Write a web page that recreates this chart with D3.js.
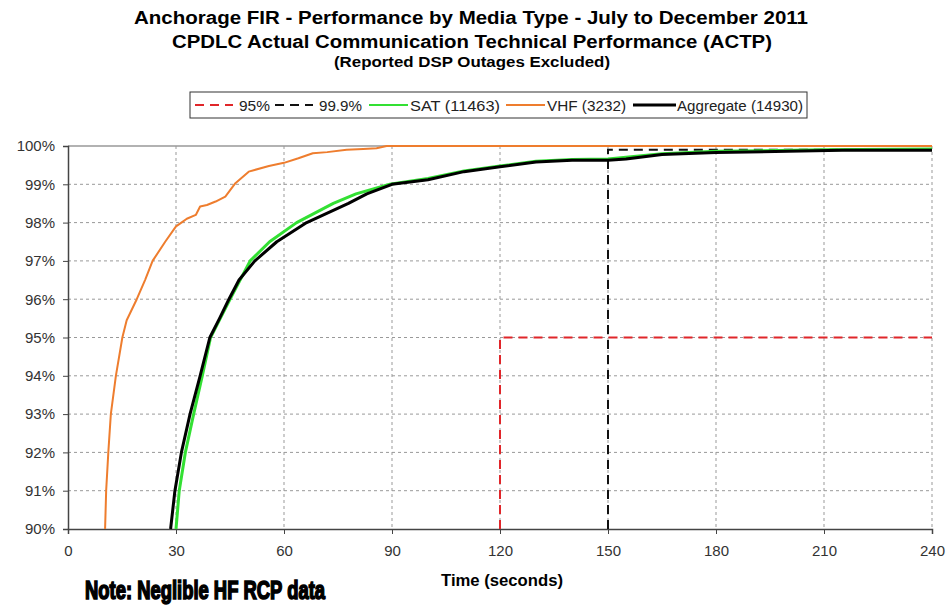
<!DOCTYPE html>
<html>
<head>
<meta charset="utf-8">
<script src="https://cdn.jsdelivr.net/npm/d3@7"></script>
<style>
  body { margin: 0; background: #fff; }
  svg { display: block; font-family: "Liberation Sans", Arial, sans-serif; }
</style>
</head>
<body>
<div id="chart"></div>
<script>
// data: time (s) vs cumulative % delivered
const vhfTime = [10.3, 10.6, 11.2, 11.9, 13.3, 15.1, 16.3, 19.1, 21.4, 23.5, 27.0, 30, 31.5, 33, 35.5, 36.7, 38.6, 41, 43.7, 46.5, 50.2, 55.8, 60, 64, 68, 72, 77.4, 82, 85.7, 88.5, 240];
const vhfPct  = [90, 91, 92, 93, 94, 95, 95.45, 96, 96.5, 97, 97.5, 97.9, 98.0, 98.1, 98.2, 98.42, 98.46, 98.55, 98.68, 99.03, 99.33, 99.48, 99.56, 99.68, 99.81, 99.84, 99.9, 99.92, 99.94, 100, 100];

const satTime = [30.0, 30.9, 32.6, 34.9, 37.3, 39.6, 42.3, 45, 50.6, 56, 63.5, 73.7, 80, 89.4, 100, 110, 120, 130, 140, 150, 165, 180, 210, 240];
const satPct  = [90, 91, 92, 93, 94, 95, 95.5, 96, 97, 97.5, 98, 98.5, 98.75, 99.0, 99.15, 99.35, 99.48, 99.6, 99.65, 99.66, 99.8, 99.86, 99.9, 99.92];

const aggTime = [28.5, 29.7, 31.5, 33.9, 36.7, 39.4, 42.1, 44.7, 47.5, 51.9, 58, 66.3, 77.9, 83, 90, 100, 110, 120, 130, 140, 150, 155, 165, 180, 200, 215, 240];
const aggPct  = [90, 91, 92, 93, 94, 95, 95.5, 96, 96.5, 97, 97.5, 98, 98.5, 98.75, 99.0, 99.12, 99.33, 99.46, 99.58, 99.63, 99.63, 99.66, 99.78, 99.83, 99.86, 99.89, 99.89];

// requirement lines: [time, pct] corners
const req95Time  = [120, 120, 240];
const req95Pct   = [90, 95, 95];
const req999Time = [150, 150, 240];
const req999Pct  = [90, 99.9, 99.9];

const xTicks = [0, 30, 60, 90, 120, 150, 180, 210, 240];
const yTicks = [90, 91, 92, 93, 94, 95, 96, 97, 98, 99, 100];

const titles = [
  "Anchorage FIR - Performance by Media Type - July to December 2011",
  "CPDLC Actual Communication Technical Performance (ACTP)",
  "(Reported DSP Outages Excluded)"
];
const legendLabels = ["95%", "99.9%", "SAT (11463)", "VHF (3232)", "Aggregate (14930)"];

const W = 951, H = 607;
const plot = { left: 68, right: 932, top: 146, bottom: 529 };

const svg = d3.select("#chart").append("svg")
  .attr("width", W)
  .attr("height", H);

const x = d3.scaleLinear().domain([0, 240]).range([plot.left, plot.right]);
const y = d3.scaleLinear().domain([90, 100]).range([plot.bottom, plot.top]);

// titles
svg.append("text")
  .attr("x", 471).attr("y", 24)
  .attr("text-anchor", "middle")
  .attr("font-size", 18).attr("font-weight", "bold")
  .attr("textLength", 674).attr("lengthAdjust", "spacingAndGlyphs")
  .text(titles[0]);
svg.append("text")
  .attr("x", 472).attr("y", 48)
  .attr("text-anchor", "middle")
  .attr("font-size", 18).attr("font-weight", "bold")
  .attr("textLength", 600).attr("lengthAdjust", "spacingAndGlyphs")
  .text(titles[1]);
svg.append("text")
  .attr("x", 472).attr("y", 67)
  .attr("text-anchor", "middle")
  .attr("font-size", 14).attr("font-weight", "bold")
  .attr("textLength", 276).attr("lengthAdjust", "spacingAndGlyphs")
  .text(titles[2]);

// gridlines
svg.append("g")
  .selectAll("line")
  .data(yTicks.slice(1, -1))
  .enter().append("line")
  .attr("x1", plot.left).attr("x2", plot.right)
  .attr("y1", d => y(d)).attr("y2", d => y(d))
  .attr("stroke", "#999").attr("stroke-width", 1)
  .attr("stroke-dasharray", "3,3");
svg.append("g")
  .selectAll("line")
  .data(xTicks.slice(1))
  .enter().append("line")
  .attr("x1", d => x(d)).attr("x2", d => x(d))
  .attr("y1", plot.top).attr("y2", plot.bottom)
  .attr("stroke", "#999").attr("stroke-width", 1)
  .attr("stroke-dasharray", "3,3");

// top border
svg.append("line")
  .attr("x1", plot.left).attr("x2", plot.right)
  .attr("y1", plot.top).attr("y2", plot.top)
  .attr("stroke", "#999").attr("stroke-width", 1.5);

// axes
const yAxis = svg.append("g")
  .attr("transform", `translate(${plot.left},0)`)
  .call(d3.axisLeft(y).tickValues(yTicks).tickFormat(d => d + "%").tickSize(5).tickPadding(8));
const xAxis = svg.append("g")
  .attr("transform", `translate(0,${plot.bottom})`)
  .call(d3.axisBottom(x).tickValues(xTicks).tickSize(5).tickPadding(11));
[yAxis, xAxis].forEach(ax => {
  ax.select(".domain").attr("stroke", "#444").attr("stroke-width", 1.5);
  ax.selectAll(".tick line").attr("stroke", "#444");
  ax.selectAll("text")
    .attr("font-family", "Liberation Sans, Arial, sans-serif")
    .attr("font-size", 15).attr("fill", "#333");
});

const line = d3.line()
  .x(d => x(d[0]))
  .y(d => y(d[1]));

function pairs(ts, ps) {
  return ts.map((t, i) => [t, ps[i]]);
}

// requirement lines
svg.append("path")
  .datum(pairs(req95Time, req95Pct))
  .attr("d", line)
  .attr("fill", "none").attr("stroke", "#e0262a").attr("stroke-width", 2)
  .attr("stroke-dasharray", "9,6");
svg.append("path")
  .datum(pairs(req999Time, req999Pct))
  .attr("d", line)
  .attr("fill", "none").attr("stroke", "#111").attr("stroke-width", 2)
  .attr("stroke-dasharray", "9,6");

// series
const series = [
  { t: vhfTime, p: vhfPct, color: "#ee7d2e", w: 2 },
  { t: satTime, p: satPct, color: "#33e033", w: 3 },
  { t: aggTime, p: aggPct, color: "#000", w: 3 }
];
series.forEach(s => {
  svg.append("path")
    .datum(pairs(s.t, s.p))
    .attr("d", line)
    .attr("fill", "none")
    .attr("stroke", s.color)
    .attr("stroke-width", s.w)
    .attr("stroke-linejoin", "round");
});

// legend
const legend = svg.append("g");
legend.append("rect")
  .attr("x", 190).attr("y", 92)
  .attr("width", 617).attr("height", 26)
  .attr("fill", "#fff").attr("stroke", "#333").attr("stroke-width", 1);

const legendItems = [
  { x1: 195, x2: 233, tx: 239, tw: 31, color: "#e0262a", dash: "9,6", w: 2 },
  { x1: 275, x2: 313, tx: 319, tw: 43, color: "#111", dash: "9,6", w: 2 },
  { x1: 369, x2: 408, tx: 410, tw: 90, color: "#33e033", dash: null, w: 2 },
  { x1: 506, x2: 545, tx: 547, tw: 79, color: "#ee7d2e", dash: null, w: 2 },
  { x1: 633, x2: 676, tx: 677, tw: 126, color: "#000", dash: null, w: 3 }
];
legendItems.forEach((it, i) => {
  legend.append("line")
    .attr("x1", it.x1).attr("x2", it.x2)
    .attr("y1", 105).attr("y2", 105)
    .attr("stroke", it.color).attr("stroke-width", it.w)
    .attr("stroke-dasharray", it.dash);
  legend.append("text")
    .attr("x", it.tx).attr("y", 111)
    .attr("font-size", 15).attr("fill", "#222")
    .attr("textLength", it.tw).attr("lengthAdjust", "spacingAndGlyphs")
    .text(legendLabels[i]);
});

// axis title
svg.append("text")
  .attr("x", 502).attr("y", 586)
  .attr("text-anchor", "middle")
  .attr("font-size", 16).attr("font-weight", "bold")
  .attr("textLength", 122).attr("lengthAdjust", "spacingAndGlyphs")
  .text("Time (seconds)");

// note
svg.append("text")
  .attr("x", 85).attr("y", 599)
  .attr("font-family", "Liberation Sans Narrow, Liberation Sans, sans-serif")
  .attr("font-size", 25).attr("font-weight", "bold")
  .attr("stroke", "#000").attr("stroke-width", 1.6)
  .attr("textLength", 240).attr("lengthAdjust", "spacingAndGlyphs")
  .text("Note: Neglible HF RCP data");
</script>
</body>
</html>
